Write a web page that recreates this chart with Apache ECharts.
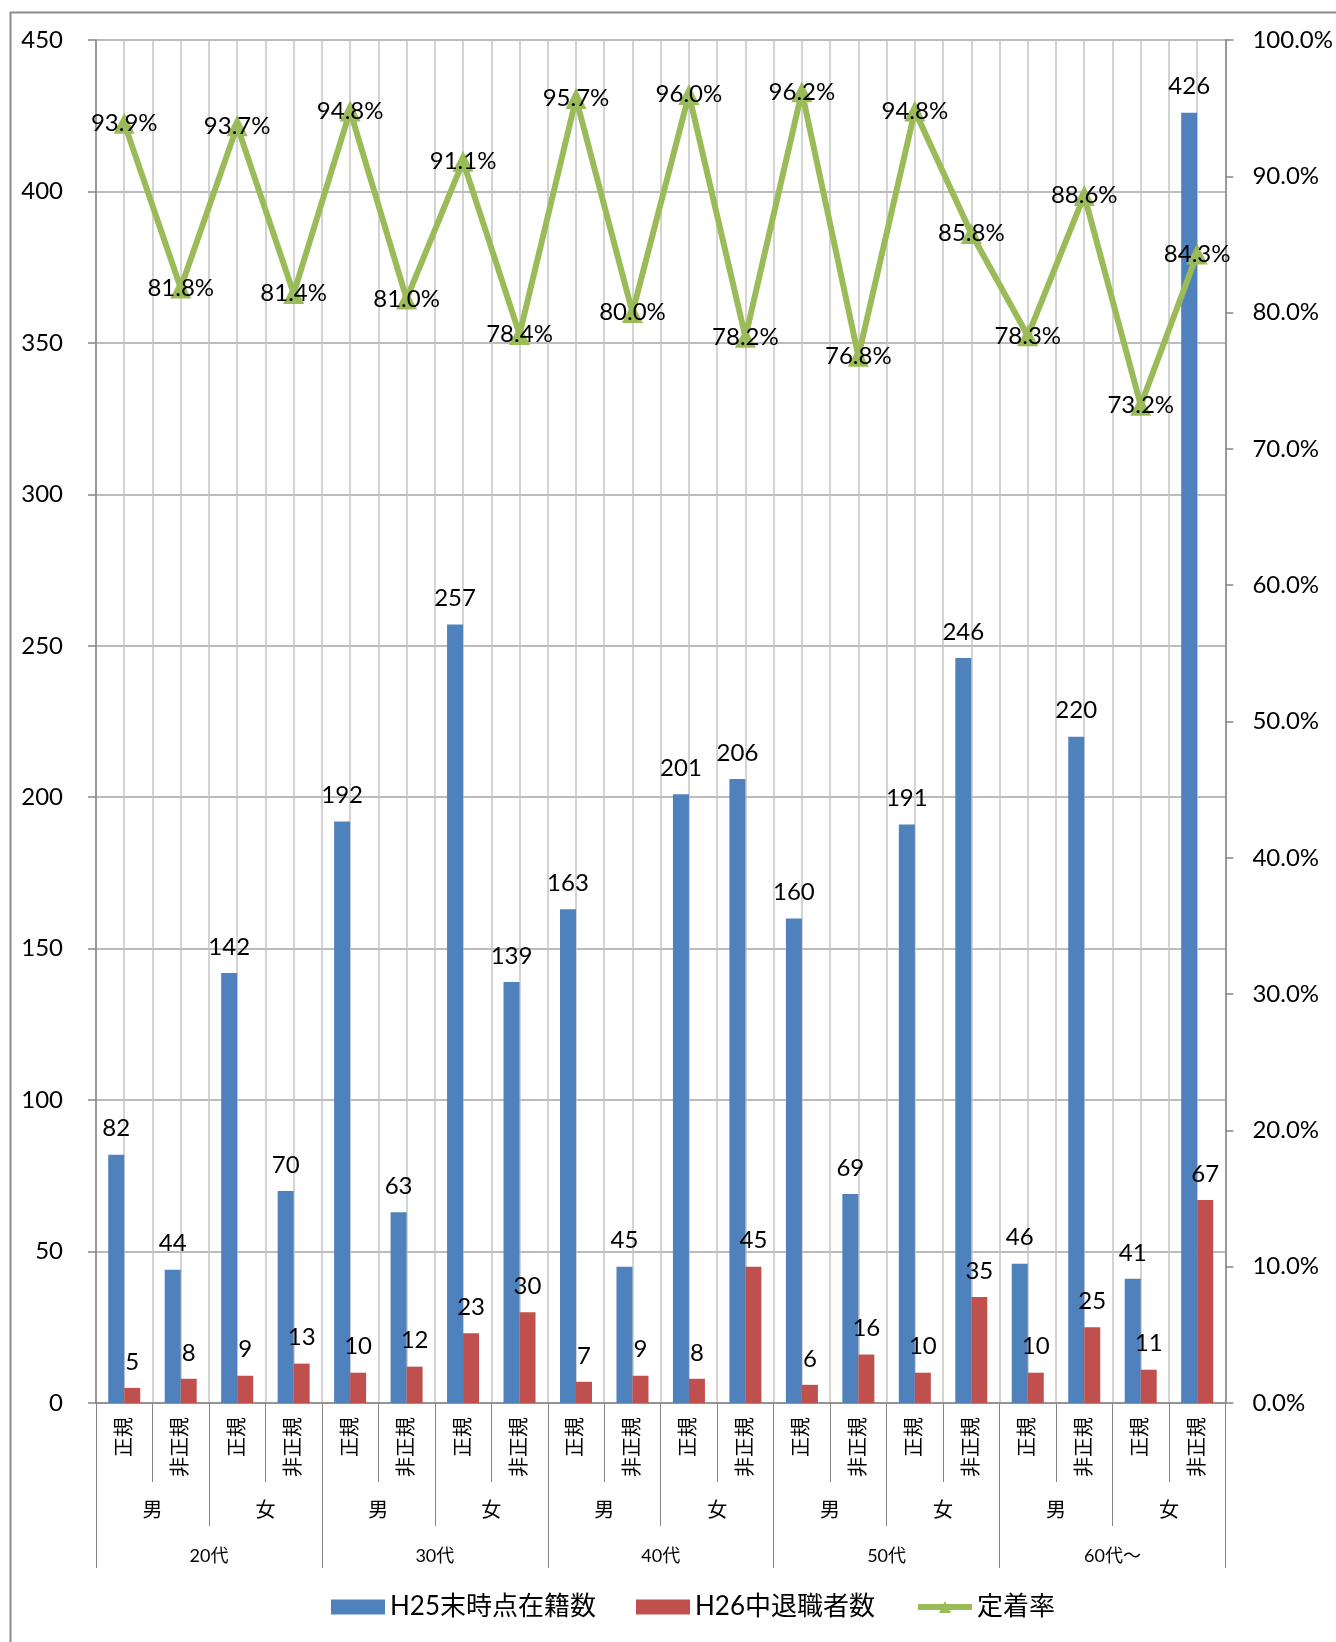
<!DOCTYPE html>
<html>
<head>
<meta charset="utf-8">
<script src="https://cdn.jsdelivr.net/npm/echarts@6/dist/echarts.min.js"></script>
<style>
  html, body { margin: 0; padding: 0; background: #fff; }
  #chart { width: 1336px; height: 1642px; }
</style>
</head>
<body>
<div id="chart"></div>
<script>
// Employment types, genders and age bands (three-level category axis)
const types = ['正規','非正規','正規','非正規','正規','非正規','正規','非正規','正規','非正規',
               '正規','非正規','正規','非正規','正規','非正規','正規','非正規','正規','非正規'];
const genders = ['男','女','男','女','男','女','男','女','男','女'];
const ages = ['20代','30代','40代','50代','60代～'];

// Headcount at end of H25
const enrolled = [82, 44, 142, 70, 192, 63, 257, 139, 163, 45, 201, 206, 160, 69, 191, 246, 46, 220, 41, 426];
// Leavers during H26
const leavers = [5, 8, 9, 13, 10, 12, 23, 30, 7, 9, 8, 45, 6, 16, 10, 35, 10, 25, 11, 67];
// Retention rate (%)
const retention = [93.9, 81.8, 93.7, 81.4, 94.8, 81.0, 91.1, 78.4, 95.7, 80.0, 96.0, 78.2, 96.2, 76.8, 94.8, 85.8, 78.3, 88.6, 73.2, 84.3];

// Axis tick values
const countTicks = { min: 0, max: 450, interval: 50 };
const rateTicks = { min: 0, max: 100, interval: 10 };

const FONT = 'Lato, "Noto Sans CJK JP", sans-serif';
const AXIS_GREY = '#868686';
const GREEN = '#9BBB59';

const chart = echarts.init(document.getElementById('chart'), null, { renderer: 'canvas' });

chart.setOption({
  backgroundColor: '#ffffff',
  animation: false,
  textStyle: { fontFamily: FONT, color: '#000' },
  graphic: [{
    type: 'rect',
    left: 8, top: 10,
    shape: { width: 1400, height: 1700 },
    style: { fill: 'none', stroke: '#8c8c8c', lineWidth: 2 },
    silent: true, z: -10
  }],
  grid: { left: 96, right: 110, top: 40, bottom: 239, containLabel: false },
  legend: {
    left: 326, top: 1589,
    itemWidth: 54, itemHeight: 15, itemGap: 40,
    textStyle: { fontSize: 26, color: '#000', fontFamily: FONT },
    data: [
      { name: 'H25末時点在籍数', icon: 'rect' },
      { name: 'H26中退職者数', icon: 'rect' },
      { name: '定着率', lineStyle: { width: 6, color: GREEN } }
    ]
  },
  xAxis: [
    {
      type: 'category', data: types, position: 'bottom',
      axisLine: { lineStyle: { color: AXIS_GREY, width: 1.5 } },
      axisTick: { show: true, interval: 0, length: 79, lineStyle: { color: AXIS_GREY } },
      axisLabel: { interval: 0, rotate: 90, fontSize: 20, margin: 14, color: '#000', fontFamily: FONT },
      splitLine: { show: false }
    },
    {
      type: 'category', data: genders, position: 'bottom',
      axisLine: { show: false },
      axisTick: { show: true, interval: 0, length: 123, lineStyle: { color: AXIS_GREY } },
      axisLabel: { interval: 0, fontSize: 20, margin: 98, color: '#000', fontFamily: FONT },
      splitLine: { show: false }
    },
    {
      type: 'category', data: ages, position: 'bottom',
      axisLine: { show: false },
      axisTick: { show: true, interval: 0, length: 165, lineStyle: { color: AXIS_GREY } },
      axisLabel: { interval: 0, fontSize: 18, margin: 144, color: '#000', fontFamily: FONT },
      splitLine: { show: false }
    },
    {
      // half-category vertical gridlines
      type: 'value', position: 'top', min: 0, max: 40, interval: 1,
      axisLine: { show: false }, axisTick: { show: false }, axisLabel: { show: false },
      splitLine: { show: true, lineStyle: { color: '#c4c4c4', width: 1.5 } }
    }
  ],
  yAxis: [
    {
      type: 'value', min: countTicks.min, max: countTicks.max, interval: countTicks.interval,
      axisLine: { show: true, lineStyle: { color: AXIS_GREY, width: 1.5 } },
      axisTick: { show: true, inside: false, length: 8, lineStyle: { color: AXIS_GREY, width: 1.5 } },
      axisLabel: { fontSize: 24, margin: 33, color: '#000', fontFamily: FONT },
      splitLine: { show: true, lineStyle: { color: '#a6a6a6', width: 1.5 } }
    },
    {
      type: 'value', min: rateTicks.min, max: rateTicks.max, interval: rateTicks.interval,
      position: 'right',
      axisLine: { show: true, lineStyle: { color: AXIS_GREY, width: 1.5 } },
      axisTick: { show: true, inside: false, length: 8, lineStyle: { color: AXIS_GREY, width: 1.5 } },
      axisLabel: { fontSize: 24, margin: 27, color: '#000', fontFamily: FONT,
                   formatter: v => v.toFixed(1) + '%' },
      splitLine: { show: false }
    }
  ],
  series: [
    {
      name: 'H25末時点在籍数', type: 'bar', xAxisIndex: 0, yAxisIndex: 0,
      data: enrolled, barWidth: 16, barGap: '0%',
      itemStyle: { color: '#4F81BD' },
      label: { show: true, position: 'top', distance: 14, fontSize: 24, color: '#000', fontFamily: FONT }
    },
    {
      name: 'H26中退職者数', type: 'bar', xAxisIndex: 0, yAxisIndex: 0,
      data: leavers, barWidth: 16, barGap: '0%',
      itemStyle: { color: '#C0504D' },
      label: { show: true, position: 'top', distance: 14, fontSize: 24, color: '#000', fontFamily: FONT }
    },
    {
      name: '定着率', type: 'line', xAxisIndex: 0, yAxisIndex: 1,
      data: retention,
      symbol: 'triangle', symbolSize: 21,
      lineStyle: { color: GREEN, width: 6 },
      itemStyle: { color: GREEN },
      label: { show: true, position: 'inside', fontSize: 24, color: '#000', fontFamily: FONT,
               formatter: p => p.value.toFixed(1) + '%' },
      z: 5
    }
  ]
});
</script>
</body>
</html>
